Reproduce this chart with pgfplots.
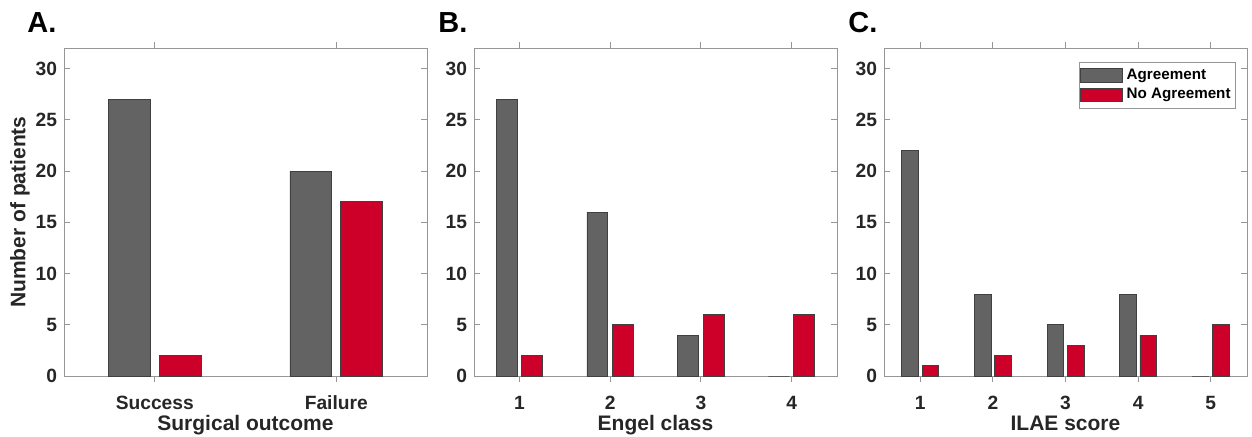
\documentclass[border=0pt]{standalone}
\usepackage{fontspec}
\setmainfont{Liberation Sans}
\usepackage{pgfplots}
\pgfplotsset{compat=1.18}
\definecolor{BarGray}{RGB}{99,99,99}
\definecolor{BarRed}{RGB}{204,0,41}
\definecolor{AxisGray}{RGB}{150,150,150}
\definecolor{TextGray}{RGB}{38,38,38}
\pgfplotsset{
  panel/.style={
    scale only axis, width=181.5pt, height=164pt, anchor=south west,
    ymin=0, ymax=32, ytick={0,5,...,30},
    axis line style={draw=AxisGray, line width=0.5pt},
    tick style={draw=AxisGray, line width=0.5pt},
    major tick length=3pt, tick align=inside,
    ybar, bar width=0.23,
    ticklabel style={font=\bfseries\fontsize{9.6}{11}\selectfont, text=TextGray},
    /pgf/number format/assume math mode=true,
    xticklabel style={anchor=base, yshift=-13.5pt},
    label style={font=\bfseries\fontsize{10.5}{12}\selectfont, text=TextGray},
    xlabel style={at={(axis description cs:0.5,0)}, anchor=base, yshift=-27pt},
  },
  grayb/.style={fill=BarGray, draw=black!75, line width=0.4pt, bar shift=-0.14,
    legend image code/.code={\draw[fill=BarGray, draw=black!75, line width=0.4pt] (1.5pt,-3.4pt) rectangle (22.5pt,3.4pt);}},
  redb/.style={fill=BarRed, draw=black!75, line width=0.4pt, bar shift=0.14,
    legend image code/.code={\draw[fill=BarRed, draw=black!75, line width=0.4pt] (1.5pt,-3.4pt) rectangle (22.5pt,3.4pt);}},
}
\begin{document}
\begin{tikzpicture}
\path[use as bounding box] (0,0) rectangle (626pt,218pt);
\begin{axis}[panel, at={(32pt,30pt)},
  xmin=0.5, xmax=2.5, xtick={1,2}, xticklabels={Success,Failure},
  xlabel={Surgical outcome}, ylabel={Number of patients},
  ylabel style={at={(axis description cs:0,0.5)}, anchor=center, yshift=22pt}]
\addplot[grayb] coordinates {(1,27) (2,20)};
\addplot[redb] coordinates {(1,2) (2,17)};
\end{axis}
\begin{axis}[panel, at={(237pt,30pt)},
  xmin=0.5, xmax=4.5, xtick={1,2,3,4},
  xlabel={Engel class}]
\addplot[grayb] coordinates {(1,27) (2,16) (3,4) (4,0)};
\addplot[redb] coordinates {(1,2) (2,5) (3,6) (4,6)};
\end{axis}
\begin{axis}[panel, at={(442pt,30pt)},
  xmin=0.5, xmax=5.5, xtick={1,2,3,4,5},
  xlabel={ILAE score},
  legend style={at={(1,1)}, anchor=north east, xshift=-5.5pt, yshift=-7pt,
    draw=AxisGray, fill=white, font=\bfseries\fontsize{7.6}{9}\selectfont,
    text=black, inner xsep=0.5pt, inner ysep=1.2pt, row sep=-1pt},
  legend cell align=left]
\addplot[grayb] coordinates {(1,22) (2,8) (3,5) (4,8) (5,0)};
\addplot[redb] coordinates {(1,1) (2,2) (3,3) (4,4) (5,5)};
\legend{Agreement, No Agreement}
\end{axis}
\node[anchor=base west, inner sep=0pt, font=\bfseries\fontsize{14.5}{16}\selectfont] at (13.5pt,202pt) {A.};
\node[anchor=base west, inner sep=0pt, font=\bfseries\fontsize{14.5}{16}\selectfont] at (219pt,202pt) {B.};
\node[anchor=base west, inner sep=0pt, font=\bfseries\fontsize{14.5}{16}\selectfont] at (424pt,202pt) {C.};
\end{tikzpicture}
\end{document}
